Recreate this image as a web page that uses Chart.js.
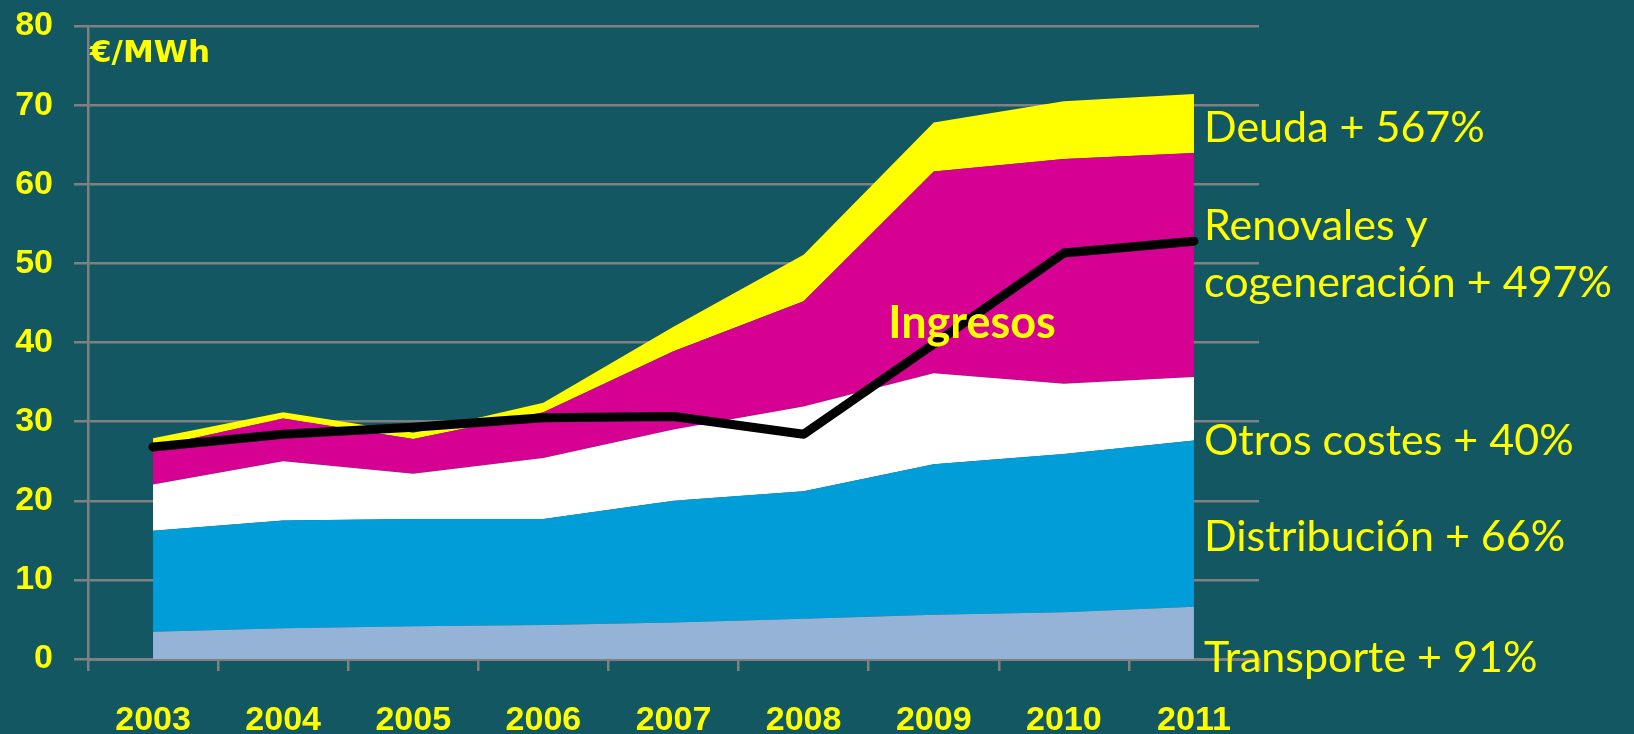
<!DOCTYPE html>
<html><head><meta charset="utf-8">
<script src="https://cdn.jsdelivr.net/npm/chart.js@4.4.0/dist/chart.umd.min.js"></script>
<style>html,body{margin:0;padding:0;background:#135762;overflow:hidden}canvas{display:block}</style>
</head><body><canvas id="c" width="1634" height="734"></canvas>
<script>
const years = ['2003','2004','2005','2006','2007','2008','2009','2010','2011'];
const transporte   = [3.45, 3.9, 4.15, 4.3, 4.6, 5.1, 5.6, 5.9, 6.6];
const distribucion = [12.75, 13.6, 13.55, 13.4, 15.4, 16.1, 19.0, 20.0, 21.0];
const otrosCostes  = [5.85, 7.5, 5.7, 7.7, 9.0, 10.7, 11.5, 8.9, 8.05];
const renovables   = [4.75, 5.4, 4.4, 5.8, 9.9, 13.3, 25.5, 28.4, 28.3];
const deuda        = [1.1, 0.8, 0.8, 1.2, 3.1, 5.9, 6.2, 7.3, 7.45];
const ingresos     = [26.8, 28.4, 29.3, 30.5, 30.65, 28.4, 39.8, 51.3, 52.8];
const yTickLabels  = ['0','10','20','30','40','50','60','70','80'];
const sideLabels   = ['Deuda + 567%','Renovales y','cogeneración + 497%','Otros costes + 40%','Distribución + 66%','Transporte + 91%'];

const BG = '#135762';
const YELLOW = '#FFFF00';
const GRID = '#808080';
const tickFont = {family:"'Liberation Sans', Arial, sans-serif", size:34, weight:'bold'};

const bgPlugin = { id:'bg', beforeDraw(chart){ const c=chart.ctx; c.save(); c.fillStyle=BG; c.fillRect(0,0,chart.width,chart.height); c.restore(); } };

const textPlugin = { id:'texts', afterDraw(chart){
  const c = chart.ctx; const a = chart.chartArea;
  c.save();
  c.fillStyle = YELLOW; c.textAlign='left'; c.textBaseline='alphabetic';
  c.font = "43px Lato, 'Open Sans', sans-serif";
  const x = a.right - 55;
  const ys = [142, 240, 297, 455, 551, 672];
  sideLabels.forEach((t,i)=>c.fillText(t, x, ys[i]));
  c.font = "bold 45px Lato, 'Open Sans', sans-serif";
  c.textAlign='center';
  c.fillText('Ingresos', 972, 338);
  c.textAlign='left';
  c.font = "bold 31px 'DejaVu Sans', sans-serif";
  c.fillText('€/MWh', a.left + 2, 62);
  c.restore();
}};

const area = (label, data, color, fill) => ({label, data, stack:'costs', backgroundColor:color, borderColor:color, borderWidth:0, fill, pointRadius:0, tension:0});

new Chart(document.getElementById('c'), {
  type:'line',
  data:{ labels: years, datasets:[
    {label:'Ingresos', data: ingresos, stack:'ing', borderColor:'#000000', backgroundColor:'#000000', borderWidth:9, fill:false, pointRadius:0, borderCapStyle:'round', borderJoinStyle:'round', tension:0},
    area('Transporte', transporte, '#95B3D7', 'origin'),
    area('Distribución', distribucion, '#009DD8', '-1'),
    area('Otros costes', otrosCostes, '#FFFFFF', '-1'),
    area('Renovables y cogeneración', renovables, '#D60093', '-1'),
    area('Deuda', deuda, '#FFFF00', '-1')
  ]},
  options:{
    responsive:false, animation:false, devicePixelRatio:1,
    layout:{padding:{top:26,right:375,bottom:0,left:0}},
    plugins:{legend:{display:false}, tooltip:{enabled:false}},
    scales:{
      x:{ offset:true,
          grid:{display:true, drawOnChartArea:false, drawTicks:true, tickLength:12, color:GRID, lineWidth:2.5, offset:true},
          border:{color:GRID, width:3},
          ticks:{color:YELLOW, font:tickFont, padding:29, maxRotation:0, autoSkip:false},
          afterFit(s){ s.height = 75; s.paddingLeft = 0; s.paddingRight = 0; } },
      y:{ stacked:true, min:0, max:80,
          ticks:{stepSize:10, color:YELLOW, font:tickFont, padding:21, callback:(v,i)=>yTickLabels[i]},
          grid:{color:GRID, lineWidth:2.5, tickLength:14},
          border:{color:GRID, width:2.5},
          afterFit(s){ s.width = 88; s.paddingTop = 0; s.paddingBottom = 0; } }
    }
  },
  plugins:[bgPlugin, textPlugin]
});
</script></body></html>
